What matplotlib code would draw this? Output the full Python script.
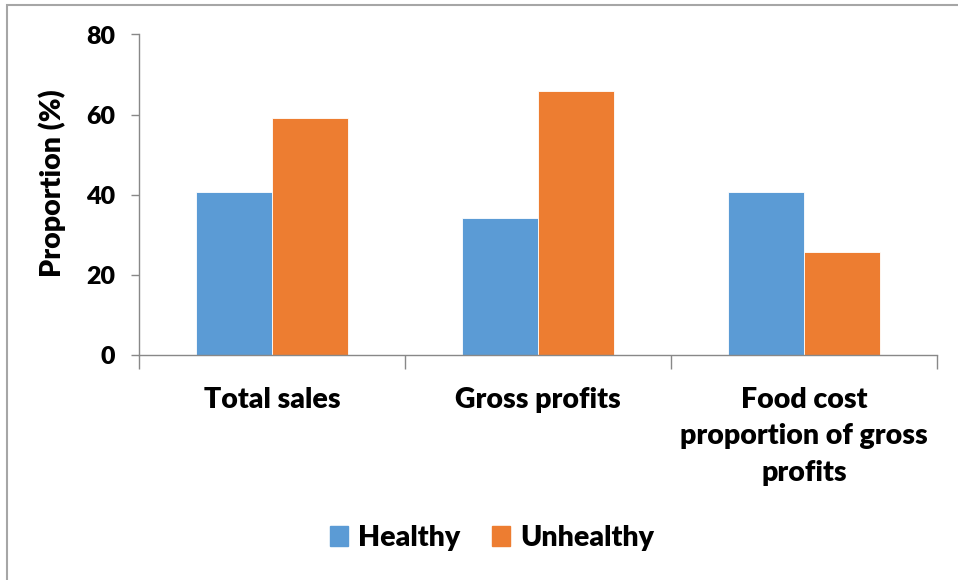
import numpy as np
import matplotlib.pyplot as plt
from matplotlib.patches import Rectangle, Patch

# proportions for healthy vs unhealthy items
categories = ["Total sales", "Gross profits", "Food cost\nproportion of gross\nprofits"]
healthy = [40.8, 34.2, 40.8]
unhealthy = [59.2, 65.8, 25.6]
yticks = [0, 20, 40, 60, 80]

blue = "#5B9BD5"
orange = "#ED7D31"
axis_grey = "#888888"

plt.rcParams['font.family'] = ['Lato', 'DejaVu Sans']
plt.rcParams['font.weight'] = 'heavy'
plt.rcParams['axes.labelweight'] = 'heavy'

fig = plt.figure(figsize=(9.58, 5.8), dpi=100)
ax = fig.add_axes([139 / 958, 225 / 580, 798 / 958, 320.5 / 580])

x = np.arange(len(categories)) + 0.5
w = 0.285
ax.bar(x - w / 2, healthy, w, color=blue, edgecolor="white", linewidth=0.6, label="Healthy")
ax.bar(x + w / 2, unhealthy, w, color=orange, edgecolor="white", linewidth=0.6, label="Unhealthy")

ax.set_xlim(0, 3)
ax.set_ylim(0, 80)
ax.set_yticks(yticks)
ax.tick_params(axis="y", labelsize=18, length=6, width=1, color=axis_grey, pad=11)

# category labels at group centres, tick marks on group boundaries
ax.set_xticks(x)
ax.set_xticklabels(categories, fontsize=20.5, linespacing=1.5, va="top")
ax.tick_params(axis="x", length=0, pad=23)
ax.set_xticks([0, 1, 2, 3], minor=True)
ax.tick_params(axis="x", which="minor", length=10, width=1, color=axis_grey)

for s in ["top", "right"]:
    ax.spines[s].set_visible(False)
for s in ["left", "bottom"]:
    ax.spines[s].set_color(axis_grey)
    ax.spines[s].set_linewidth(1)

ax.set_ylabel("Proportion (%)", fontsize=20.5)
ax.yaxis.set_label_coords(-0.092, 0.535)

handles = [Patch(color=blue), Patch(color=orange)]
fig.legend(handles, ["Healthy", "Unhealthy"], loc="center", bbox_to_anchor=(492 / 958, 1 - 538 / 580),
           ncol=2, frameon=False, fontsize=20.5, handlelength=0.65, handleheight=0.65,
           handletextpad=0.35, columnspacing=1.1)

# outer chart border
fig.add_artist(Rectangle((7 / 958, -0.1), 1.1, (575 / 580) + 0.1, transform=fig.transFigure,
                         fill=False, edgecolor="#a6a6a6", linewidth=1.5))

fig.savefig("out.png", dpi=100)
